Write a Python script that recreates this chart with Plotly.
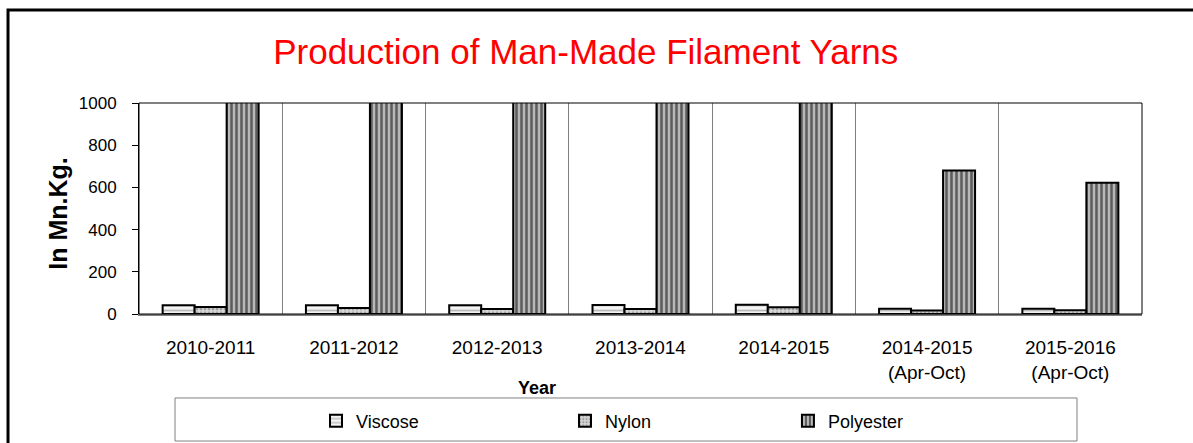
import plotly.graph_objects as go

categories = ["2010-2011", "2011-2012", "2012-2013", "2013-2014", "2014-2015",
              "2014-2015<br>(Apr-Oct)", "2015-2016<br>(Apr-Oct)"]
viscose = [42, 42, 42, 43, 44, 25, 25]
nylon = [33, 28, 24, 24, 32, 17, 18]
polyester = [1310, 1250, 1230, 1190, 1195, 680, 622]
y_ticks = [0, 200, 400, 600, 800, 1000]

FONT = "Arial, 'Liberation Sans', sans-serif"

fig = go.Figure()
fig.add_trace(go.Bar(
    x=categories, y=viscose, name="Viscose", legend="legend",
    marker=dict(color="white", line=dict(color="black", width=2),
                pattern=dict(shape="-", fgcolor="#808080", bgcolor="#f4f4f4", size=5, solidity=0.35)),
))
fig.add_trace(go.Bar(
    x=categories, y=nylon, name="Nylon", legend="legend2",
    marker=dict(color="white", line=dict(color="black", width=2),
                pattern=dict(shape=".", fgcolor="#666666", bgcolor="#d8d8d8", size=4, solidity=0.4)),
))
fig.add_trace(go.Bar(
    x=categories, y=polyester, name="Polyester", legend="legend3",
    marker=dict(color="white", line=dict(color="black", width=2),
                pattern=dict(shape="|", fgcolor="black", bgcolor="#b8b8b8", size=5, solidity=0.5)),
))

leg_common = dict(orientation="h", yanchor="middle", xanchor="left",
                  font=dict(family=FONT, size=18, color="black"),
                  bgcolor="rgba(0,0,0,0)", borderwidth=0)

fig.update_layout(
    width=1193, height=443,
    margin=dict(l=139, r=51, t=103, b=129, autoexpand=False),
    paper_bgcolor="white", plot_bgcolor="white",
    showlegend=True,
    barmode="group", bargap=0.33, bargroupgap=0,
    font=dict(family=FONT, color="black"),
    title=dict(text="Production of Man-Made Filament Yarns",
               font=dict(family=FONT, size=35, color="#ff0000"),
               x=0.491, xanchor="center", y=1 - 52 / 443, yanchor="middle"),
    legend=dict(x=0.1765, y=-0.507, **leg_common),
    legend2=dict(x=0.4247, y=-0.507, **leg_common),
    legend3=dict(x=0.647, y=-0.507, **leg_common),
    xaxis=dict(tickson="boundaries", showgrid=True, gridcolor="#808080", gridwidth=1,
               ticks="", showline=True, linecolor="#808080", linewidth=2,
               ticklabelstandoff=15, automargin=False,
               tickfont=dict(family=FONT, size=19, color="black")),
    yaxis=dict(range=[0, 1000], tickvals=y_ticks, showgrid=False, zeroline=False,
               ticks="outside", ticklen=6, tickcolor="black",
               showline=True, linecolor="black", linewidth=1,
               ticklabelstandoff=12, automargin=False,
               tickfont=dict(family=FONT, size=17, color="black")),
    shapes=[
        dict(type="rect", xref="paper", yref="paper", x0=0, x1=1, y0=0, y1=1,
             line=dict(color="black", width=1), layer="above"),
        dict(type="rect", xref="paper", yref="paper", x0=0.0359, x1=0.9352, y0=-0.602, y1=-0.398,
             line=dict(color="#808080", width=1)),
        dict(type="rect", xref="paper", yref="paper", x0=-0.1306, x1=1.0578, y0=-0.692, y1=1.4408,
             line=dict(color="black", width=3)),
    ],
    annotations=[
        dict(text="<b>Year</b>", xref="paper", yref="paper", x=(537 - 139) / 1003, y=(314 - 388) / 211,
             xanchor="center", yanchor="middle", showarrow=False,
             font=dict(family=FONT, size=18, color="black")),
        dict(text="<b>In Mn.Kg.</b>", xref="paper", yref="paper", x=(58 - 139) / 1003, y=0.475,
             xanchor="center", yanchor="middle", showarrow=False, textangle=-90,
             font=dict(family=FONT, size=25, color="black")),
    ],
)

fig.write_html("out.html", config={"displayModeBar": False},
               post_script="document.body.style.margin='0';document.body.style.overflow='hidden';")
